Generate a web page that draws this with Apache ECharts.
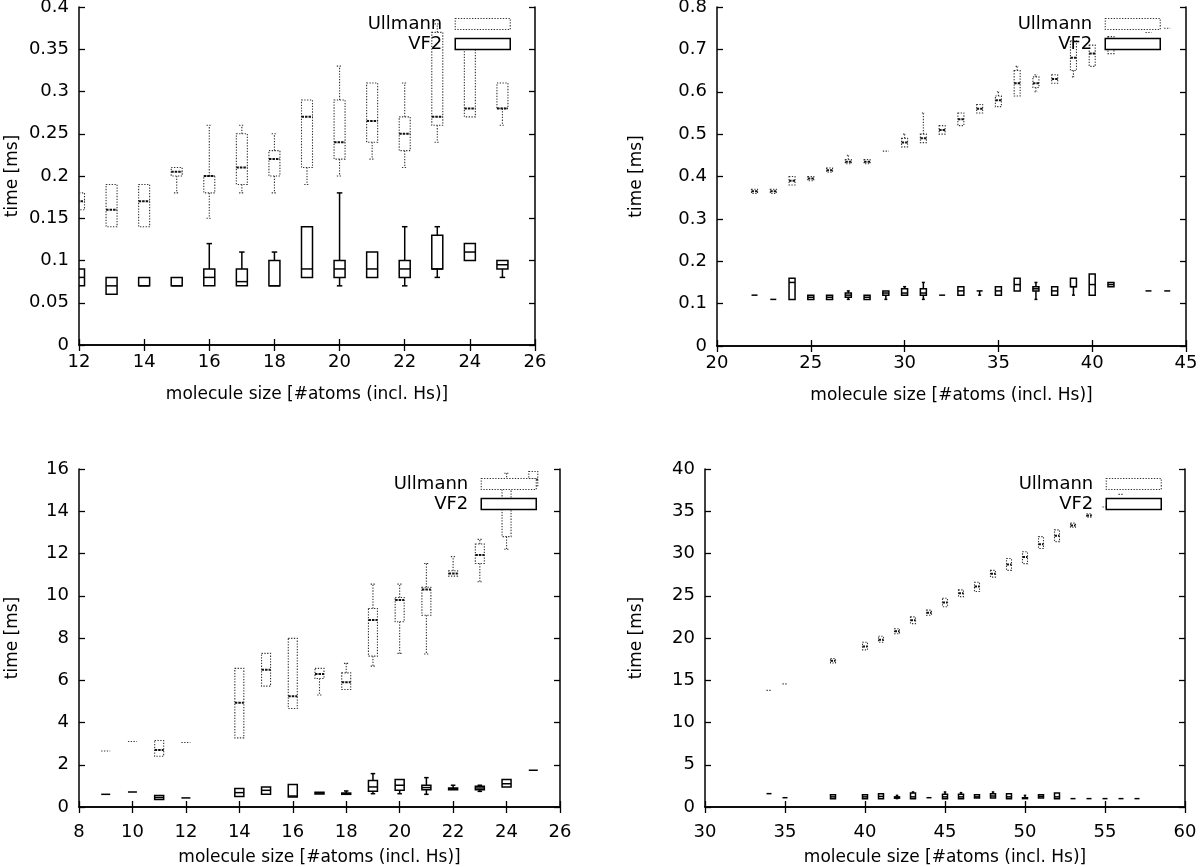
<!DOCTYPE html>
<html>
<head>
<meta charset="utf-8">
<script src="https://cdn.jsdelivr.net/npm/echarts@6/dist/echarts.min.js"></script>
<style>
html,body{margin:0;padding:0;background:#fff;}
#chart{width:1200px;height:867px;}
</style>
</head>
<body>
<div id="chart"></div>
<script>
// Each box: [whiskerLow, boxLow, median, boxHigh, whiskerHigh]
const p1X = [12,13,14,15,16,17,18,19,20,21,22,23,24,25];
const p1Ullmann = [
  [0.16,0.16,0.17,0.18,0.18],
  [0.14,0.14,0.16,0.19,0.19],
  [0.14,0.14,0.17,0.19,0.19],
  [0.18,0.20,0.205,0.21,0.21],
  [0.15,0.18,0.20,0.20,0.26],
  [0.18,0.19,0.21,0.25,0.26],
  [0.18,0.20,0.22,0.23,0.25],
  [0.19,0.21,0.27,0.29,0.29],
  [0.20,0.22,0.24,0.29,0.33],
  [0.22,0.24,0.265,0.31,0.31],
  [0.21,0.23,0.25,0.27,0.31],
  [0.24,0.26,0.27,0.37,0.38],
  [0.27,0.27,0.28,0.35,0.35],
  [0.26,0.28,0.28,0.31,0.31]
];
const p1VF2 = [
  [0.07,0.07,0.08,0.09,0.09],
  [0.06,0.06,0.07,0.08,0.08],
  [0.07,0.07,0.07,0.08,0.08],
  [0.07,0.07,0.07,0.08,0.08],
  [0.07,0.07,0.08,0.09,0.12],
  [0.07,0.07,0.075,0.09,0.11],
  [0.07,0.07,0.07,0.10,0.11],
  [0.08,0.08,0.09,0.14,0.14],
  [0.07,0.08,0.09,0.10,0.18],
  [0.08,0.08,0.09,0.11,0.11],
  [0.07,0.08,0.09,0.10,0.14],
  [0.08,0.09,0.09,0.13,0.14],
  [0.10,0.10,0.11,0.12,0.12],
  [0.08,0.09,0.095,0.10,0.10]
];

const p2X = [22,23,24,25,26,27,28,29,30,31,32,33,34,35,36,37,38,39,40,41,43,44];
const p2Ullmann = [
  [0.36,0.36,0.365,0.37,0.37],
  [0.36,0.36,0.365,0.37,0.37],
  [0.38,0.38,0.39,0.40,0.40],
  [0.39,0.39,0.395,0.40,0.40],
  [0.41,0.41,0.415,0.42,0.42],
  [0.43,0.43,0.435,0.44,0.45],
  [0.43,0.43,0.435,0.44,0.44],
  [0.46,0.46,0.46,0.46,0.46],
  [0.47,0.47,0.48,0.49,0.50],
  [0.48,0.48,0.49,0.50,0.55],
  [0.50,0.50,0.51,0.52,0.52],
  [0.52,0.52,0.535,0.55,0.55],
  [0.55,0.55,0.56,0.57,0.57],
  [0.565,0.565,0.58,0.59,0.60],
  [0.59,0.59,0.62,0.65,0.66],
  [0.60,0.61,0.62,0.635,0.64],
  [0.62,0.62,0.63,0.64,0.64],
  [0.635,0.65,0.68,0.72,0.72],
  [0.66,0.66,0.69,0.71,0.71],
  [0.69,0.69,0.71,0.73,0.73],
  [0.74,0.74,0.74,0.74,0.74],
  [0.75,0.75,0.75,0.75,0.75]
];
const p2VF2 = [
  [0.12,0.12,0.12,0.12,0.12],
  [0.11,0.11,0.11,0.11,0.11],
  [0.11,0.11,0.15,0.16,0.16],
  [0.11,0.11,0.115,0.12,0.12],
  [0.11,0.11,0.115,0.12,0.12],
  [0.11,0.115,0.12,0.125,0.13],
  [0.11,0.11,0.115,0.12,0.12],
  [0.11,0.12,0.125,0.13,0.13],
  [0.12,0.12,0.125,0.135,0.14],
  [0.11,0.12,0.125,0.135,0.15],
  [0.12,0.12,0.12,0.12,0.12],
  [0.12,0.12,0.13,0.14,0.14],
  [0.12,0.13,0.13,0.13,0.13],
  [0.12,0.12,0.13,0.14,0.14],
  [0.13,0.13,0.145,0.16,0.16],
  [0.11,0.13,0.135,0.14,0.15],
  [0.12,0.12,0.13,0.14,0.14],
  [0.12,0.14,0.14,0.16,0.16],
  [0.12,0.12,0.145,0.17,0.17],
  [0.14,0.14,0.145,0.15,0.15],
  [0.13,0.13,0.13,0.13,0.13],
  [0.13,0.13,0.13,0.13,0.13]
];

const p3X = [9,10,11,12,14,15,16,17,18,19,20,21,22,23,24,25];
const p3Ullmann = [
  [2.65,2.65,2.65,2.65,2.65],
  [3.1,3.1,3.1,3.1,3.1],
  [2.4,2.4,2.7,3.15,3.15],
  [3.05,3.05,3.05,3.05,3.05],
  [3.27,3.27,4.93,6.56,6.56],
  [5.72,5.72,6.5,7.27,7.27],
  [4.66,4.66,5.24,7.98,7.98],
  [5.3,6.08,6.3,6.56,6.56],
  [5.56,5.56,5.9,6.35,6.8],
  [6.67,7.14,8.85,9.4,10.55],
  [7.27,8.77,9.8,9.92,10.55],
  [7.24,9.08,10.3,10.4,11.53],
  [10.93,10.93,11.05,11.18,11.85],
  [10.66,11.53,11.93,12.45,12.67],
  [12.2,12.8,14.5,15.48,15.8],
  [15.17,15.17,15.5,15.88,15.88]
];
const p3VF2 = [
  [0.6,0.6,0.6,0.6,0.6],
  [0.71,0.71,0.71,0.71,0.71],
  [0.35,0.35,0.45,0.55,0.55],
  [0.43,0.43,0.43,0.43,0.43],
  [0.5,0.5,0.68,0.87,0.87],
  [0.6,0.6,0.79,0.95,0.95],
  [0.47,0.47,0.52,1.07,1.07],
  [0.62,0.62,0.66,0.7,0.7],
  [0.6,0.6,0.63,0.66,0.76],
  [0.63,0.74,0.95,1.26,1.58],
  [0.63,0.79,1.03,1.3,1.3],
  [0.6,0.82,0.92,1.03,1.39],
  [0.82,0.82,0.86,0.9,1.03],
  [0.74,0.82,0.9,0.98,1.03],
  [0.95,0.95,1.1,1.3,1.3],
  [1.74,1.74,1.74,1.74,1.74]
];

const p4X = [34,35,38,40,41,42,43,44,45,46,47,48,49,50,51,52,53,54,55,56,57];
const p4Ullmann = [
  [13.8,13.8,13.8,13.8,13.8],
  [14.57,14.57,14.57,14.57,14.57],
  [17.05,17.05,17.3,17.57,17.57],
  [18.55,18.6,19.0,19.5,19.5],
  [19.5,19.5,19.8,20.2,20.2],
  [20.5,20.5,20.8,21.1,21.1],
  [21.7,21.7,22.1,22.5,22.5],
  [22.7,22.7,23.0,23.3,23.3],
  [23.7,23.7,24.2,24.7,24.7],
  [24.9,24.9,25.3,25.7,25.7],
  [25.5,25.5,26.1,26.6,26.6],
  [27.2,27.2,27.6,28.0,28.0],
  [28.0,28.0,28.7,29.4,29.4],
  [28.8,28.8,29.6,30.2,30.2],
  [30.6,30.6,31.1,32.0,32.0],
  [31.4,31.4,32.1,32.8,32.8],
  [33.1,33.1,33.3,33.6,33.6],
  [34.3,34.3,34.5,34.7,34.7],
  [35.5,35.5,35.5,35.5,35.5],
  [37.0,37.0,37.0,37.0,37.0],
  [38.3,38.3,38.3,38.3,38.3]
];
const p4VF2 = [
  [1.58,1.58,1.58,1.58,1.58],
  [1.1,1.1,1.1,1.1,1.1],
  [0.99,0.99,1.2,1.46,1.46],
  [0.99,0.99,1.2,1.46,1.46],
  [0.99,0.99,1.25,1.58,1.58],
  [0.99,1.05,1.1,1.2,1.38],
  [0.99,0.99,1.2,1.66,1.78],
  [1.1,1.1,1.1,1.1,1.1],
  [0.99,0.99,1.2,1.5,1.78],
  [0.99,0.99,1.2,1.5,1.7],
  [1.07,1.07,1.2,1.46,1.46],
  [1.07,1.07,1.3,1.58,1.78],
  [0.99,0.99,1.2,1.58,1.58],
  [0.99,0.99,1.05,1.1,1.38],
  [1.07,1.07,1.25,1.46,1.46],
  [0.99,0.99,1.2,1.66,1.66],
  [0.99,0.99,0.99,0.99,0.99],
  [0.99,0.99,0.99,0.99,0.99],
  [0.99,0.99,0.99,0.99,0.99],
  [0.99,0.99,0.99,0.99,0.99],
  [0.99,0.99,0.99,0.99,0.99]
];

const xTitle = 'molecule size [#atoms (incl. Hs)]';
const yTitle = 'time [ms]';
const seriesNames = ['Ullmann', 'VF2'];

const FONT = 'DejaVu Sans';
const panels = [
  {x:p1X, u:p1Ullmann, v:p1VF2, xmin:12, xmax:26, xint:2, ymax:0.4, yint:0.05,
   grid:{left:79, top:7, width:456, height:338}, boxW:11, xGap:41, yGap:58, labM:8,
   legend:{right:689, top:14}},
  {x:p2X, u:p2Ullmann, v:p2VF2, xmin:20, xmax:45, xint:5, ymax:0.8, yint:0.1,
   grid:{left:717, top:7, width:469, height:339}, boxW:6, xGap:41, yGap:72, labM:8,
   legend:{right:39, top:14}},
  {x:p3X, u:p3Ullmann, v:p3VF2, xmin:8, xmax:26, xint:2, ymax:16, yint:2,
   grid:{left:79, top:469, width:481, height:338}, boxW:9, xGap:42, yGap:58, labM:16,
   legend:{right:663, top:474}},
  {x:p4X, u:p4Ullmann, v:p4VF2, xmin:30, xmax:60, xint:5, ymax:40, yint:5,
   grid:{left:705, top:469, width:480, height:338}, boxW:5, xGap:42, yGap:60, labM:16,
   legend:{right:38, top:474}}
];

const ullStyle = {stroke:'#333', lineWidth:1.1, lineDash:[1.3,1.5], fill:null};
const ullMed = {stroke:'#111', lineWidth:2, lineDash:[2.5,1], fill:null};
const vfStyle = {stroke:'#000', lineWidth:1.5, fill:null};
const vfMed = {stroke:'#000', lineWidth:1.5, fill:null};

function boxRender(boxW, st, med) {
  return function (params, api) {
    const x = api.value(0);
    const p = [1,2,3,4,5].map(i => api.coord([x, api.value(i)]));
    const cx = p[0][0];
    const hw = boxW / 2, cw = boxW / 4;
    const ch = [];
    const L = (x1,y1,x2,y2,s) => ch.push({type:'line', shape:{x1,y1,x2,y2}, style:Object.assign({}, s)});
    if (Math.abs(p[0][1]-p[1][1]) > 0.5) { L(cx,p[1][1],cx,p[0][1],st); L(cx-cw,p[0][1],cx+cw,p[0][1],st); }
    if (Math.abs(p[4][1]-p[3][1]) > 0.5) { L(cx,p[3][1],cx,p[4][1],st); L(cx-cw,p[4][1],cx+cw,p[4][1],st); }
    const h = p[1][1] - p[3][1];
    if (h > 0.5) {
      ch.push({type:'rect', shape:{x:cx-hw, y:p[3][1], width:boxW, height:h}, style:Object.assign({}, st)});
    }
    L(cx-hw, p[2][1], cx+hw, p[2][1], h > 0.5 ? med : st);
    return {type:'group', children:ch};
  };
}

const option = {
  backgroundColor:'#fff',
  animation:false,
  grid:[], xAxis:[], yAxis:[], series:[], legend:[]
};

const axisLineStyle = {show:true, lineStyle:{color:'#000', width:1.5}};
const tickStyle = {show:true, inside:true, length:6, lineStyle:{color:'#000', width:1.3}};

panels.forEach((P, gi) => {
  option.grid.push(Object.assign({containLabel:false, outerBoundsMode:'none'}, P.grid));
  const base = {type:'value', gridIndex:gi, min:P.xmin, max:P.xmax, interval:P.xint,
    splitLine:{show:false}, axisLine:axisLineStyle, axisTick:tickStyle};
  option.xAxis.push(Object.assign({}, base, {position:'bottom',
    name:xTitle, nameLocation:'middle', nameGap:P.xGap,
    nameTextStyle:{fontFamily:FONT, fontSize:17, color:'#000'},
    axisLabel:{fontFamily:FONT, fontSize:18, color:'#000', margin:P.labM}}));
  option.xAxis.push(Object.assign({}, base, {position:'top', axisLabel:{show:false}}));
  const ybase = {type:'value', gridIndex:gi, min:0, max:P.ymax, interval:P.yint,
    splitLine:{show:false}, axisLine:axisLineStyle, axisTick:tickStyle};
  option.yAxis.push(Object.assign({}, ybase, {position:'left',
    name:yTitle, nameLocation:'middle', nameGap:P.yGap,
    nameTextStyle:{fontFamily:FONT, fontSize:17, color:'#000'},
    axisLabel:{fontFamily:FONT, fontSize:18, color:'#000', margin:10}}));
  option.yAxis.push(Object.assign({}, ybase, {position:'right', axisLabel:{show:false}}));

  const xi = gi*2, yi = gi*2;
  option.series.push({
    type:'custom', name:seriesNames[0], xAxisIndex:xi, yAxisIndex:yi, clip:true,
    itemStyle:{color:'#222'},
    encode:{x:0, y:[1,2,3,4,5]},
    data:P.x.map((xv,i)=>[xv].concat(P.u[i])),
    renderItem:boxRender(P.boxW, ullStyle, ullMed)
  });
  option.series.push({
    type:'custom', name:seriesNames[1], xAxisIndex:xi, yAxisIndex:yi, clip:true,
    itemStyle:{color:'#000'},
    encode:{x:0, y:[1,2,3,4,5]},
    data:P.x.map((xv,i)=>[xv].concat(P.v[i])),
    renderItem:boxRender(P.boxW, vfStyle, vfMed)
  });

  option.legend.push({
    orient:'vertical', align:'right', right:P.legend.right, top:P.legend.top,
    padding:0, itemGap:0, itemWidth:55, itemHeight:11, icon:'rect',
    selectedMode:false,
    textStyle:{fontFamily:FONT, fontSize:18, color:'#000', lineHeight:20, padding:[0,8,0,0]},
    data:[
      {name:seriesNames[0], icon:'rect', itemStyle:{color:'#fff', borderColor:'#333', borderWidth:1.1, borderType:[1.3,1.5]}},
      {name:seriesNames[1], icon:'rect', itemStyle:{color:'#fff', borderColor:'#000', borderWidth:1.5, borderType:'solid'}}
    ]
  });
});

const chart = echarts.init(document.getElementById('chart'), null, {renderer:'canvas'});
chart.setOption(option);
</script>
</body>
</html>
